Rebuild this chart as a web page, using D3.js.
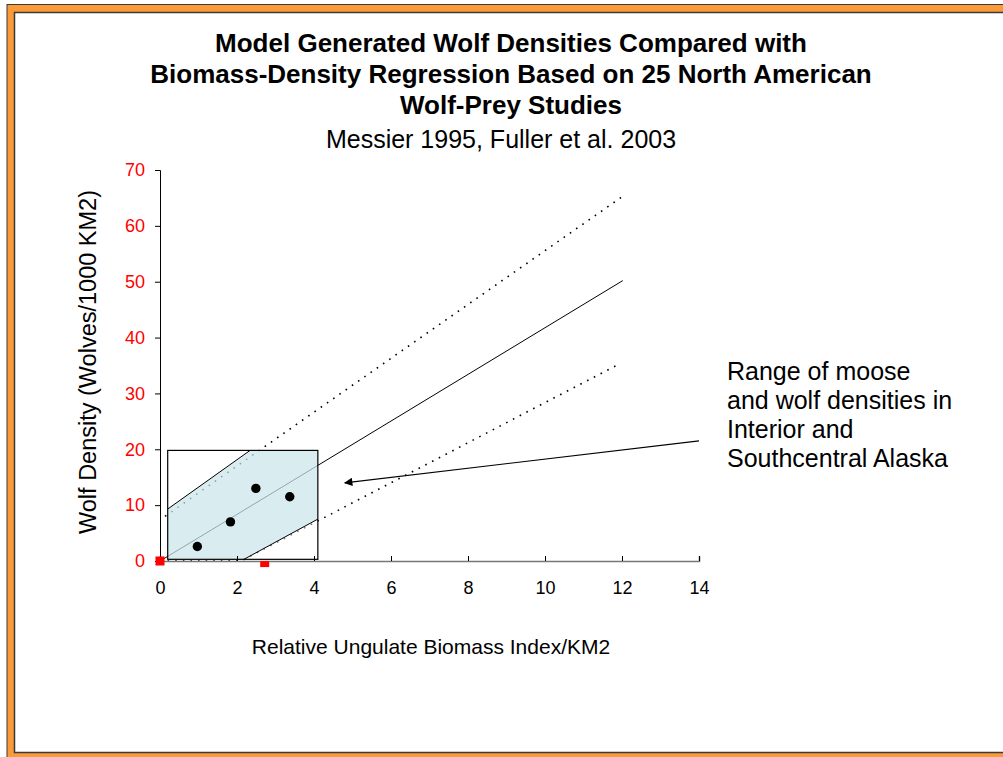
<!DOCTYPE html>
<html>

<head>
    <script src="https://cdn.jsdelivr.net/npm/d3@7"></script>
    <meta charset="utf-8">
    <title>Wolf densities</title>
    <style>
        body { margin: 0; background: #fff; }
        text { font-family: "Liberation Sans", Arial, sans-serif; }
    </style>
</head>

<body>
    <script>
    // data
    var xTicks = [0, 2, 4, 6, 8, 10, 12, 14];
    var yTicks = [0, 10, 20, 30, 40, 50, 60, 70];
    var studies = [[0.97, 2.6], [1.83, 7.0], [2.49, 13.0], [3.37, 11.5]];
    var modelPoints = [[0, 0], [2.72, -0.55]];
    var regression = [[0.05, 0.2], [12.02, 50.2]];
    var upperBound = [[0.13, 8.0], [12.0, 65.2]];
    var lowerBound = [[0, 0], [2.1, 0], [11.88, 35.1]];
    var rangeBox = { x0: 0.2, x1: 4.1, y0: 0.3, y1: 19.8 };
    var rangeBand = [[0.2, 0.3], [0.2, 9.3], [2.34, 19.8], [4.1, 19.8], [4.1, 7.5], [2.18, 0.3]];
    var arrowFrom = [14.0, 21.5], arrowTo = [4.8, 14.0];
    var titleLines = ['Model Generated Wolf Densities Compared with',
        'Biomass-Density Regression Based on 25 North American',
        'Wolf-Prey Studies'];
    var subtitle = 'Messier 1995, Fuller et al. 2003';
    var noteLines = ['Range of moose', 'and wolf densities in', 'Interior and', 'Southcentral Alaska'];

    var W = 1003, H = 757;
    var svg = d3.select('body').append('svg')
        .attr('width', W)
        .attr('height', H);

    // slide frame
    svg.append('rect')
        .attr('x', 7).attr('y', 4.5).attr('width', W + 10).attr('height', H + 10)
        .attr('fill', '#fa9a38').attr('stroke', '#3a3a3a').attr('stroke-width', 1);
    svg.append('rect')
        .attr('x', 14.5).attr('y', 12.5).attr('width', W + 10).attr('height', 740)
        .attr('fill', '#fff').attr('stroke', '#3a3a3a').attr('stroke-width', 1.5);

    var x = d3.scaleLinear().domain([0, 14]).range([160, 699]);
    var y = d3.scaleLinear().domain([0, 70]).range([561, 170]);

    var defs = svg.append('defs');
    defs.append('marker')
        .attr('id', 'arrow')
        .attr('viewBox', '0 0 10 10')
        .attr('refX', 9).attr('refY', 5)
        .attr('markerWidth', 9).attr('markerHeight', 7)
        .attr('orient', 'auto-start-reverse')
        .append('path')
        .attr('d', 'M0,0L10,5L0,10z')
        .attr('fill', '#000');

    // titles
    svg.selectAll('text.title')
        .data(titleLines)
        .enter()
        .append('text')
        .attr('class', 'title')
        .attr('x', 511)
        .attr('y', function(d, i) { return 52 + i * 31; })
        .attr('text-anchor', 'middle')
        .attr('font-size', '26px')
        .attr('font-weight', 'bold')
        .text(function(d) { return d; });
    svg.append('text')
        .attr('x', 501).attr('y', 148)
        .attr('text-anchor', 'middle')
        .attr('font-size', '25px')
        .text(subtitle);

    // lines
    var line = d3.line()
        .x(function(d) { return x(d[0]); })
        .y(function(d) { return y(d[1]); });

    svg.append('path')
        .datum(regression)
        .attr('d', line)
        .attr('fill', 'none')
        .attr('stroke', '#000')
        .attr('stroke-width', 1);
    [upperBound, lowerBound].forEach(function(b) {
        svg.append('path')
            .datum(b)
            .attr('d', line)
            .attr('fill', 'none')
            .attr('stroke', '#000')
            .attr('stroke-width', 1.6)
            .attr('stroke-dasharray', '1.6,6');
    });

    // shaded range box, see-through so the lines show faintly
    svg.append('rect')
        .attr('x', x(rangeBox.x0))
        .attr('y', y(rangeBox.y1))
        .attr('width', x(rangeBox.x1) - x(rangeBox.x0))
        .attr('height', y(rangeBox.y0) - y(rangeBox.y1))
        .attr('fill', '#fff')
        .attr('fill-opacity', 0.45);
    svg.append('path')
        .datum(rangeBand)
        .attr('d', function(d) { return line(d) + 'Z'; })
        .attr('fill', '#b3dae0')
        .attr('fill-opacity', 0.5)
        .attr('stroke', 'none');
    svg.append('path')
        .datum([rangeBand[1], rangeBand[2]])
        .attr('d', line)
        .attr('stroke', '#000').attr('fill', 'none');
    svg.append('path')
        .datum([rangeBand[5], rangeBand[4]])
        .attr('d', line)
        .attr('stroke', '#000').attr('fill', 'none');
    svg.append('rect')
        .attr('x', x(rangeBox.x0))
        .attr('y', y(rangeBox.y1))
        .attr('width', x(rangeBox.x1) - x(rangeBox.x0))
        .attr('height', y(rangeBox.y0) - y(rangeBox.y1))
        .attr('fill', 'none')
        .attr('stroke', '#000')
        .attr('stroke-width', 1.2);

    // axes
    var yAxis = svg.append('g')
        .attr('transform', 'translate(' + x(0) + ',0)')
        .call(d3.axisLeft(y).tickValues(yTicks).tickSize(5).tickPadding(10));
    yAxis.select('.domain').attr('stroke', '#000');
    yAxis.selectAll('text')
        .attr('fill', '#ff0000')
        .attr('font-size', '18px')
        .attr('font-family', '"Liberation Sans", Arial, sans-serif');

    var xAxis = svg.append('g')
        .attr('transform', 'translate(0,' + y(0) + ')')
        .call(d3.axisTop(x).tickValues(xTicks).tickSize(5).tickSizeOuter(5));
    xAxis.select('.domain').attr('stroke', '#777').attr('stroke-width', 1.6);
    xAxis.selectAll('text')
        .attr('y', 33)
        .attr('fill', '#000')
        .attr('font-size', '18px')
        .attr('font-family', '"Liberation Sans", Arial, sans-serif');

    // markers
    svg.selectAll('circle.study')
        .data(studies)
        .enter()
        .append('circle')
        .attr('class', 'study')
        .attr('cx', function(d) { return x(d[0]); })
        .attr('cy', function(d) { return y(d[1]); })
        .attr('r', 4.7)
        .attr('fill', '#000');
    svg.selectAll('rect.model')
        .data(modelPoints)
        .enter()
        .append('rect')
        .attr('class', 'model')
        .attr('x', function(d) { return x(d[0]) - 4.5; })
        .attr('y', function(d, i) { return y(d[1]) - (i === 0 ? 4.5 : 3); })
        .attr('width', 9)
        .attr('height', function(d, i) { return i === 0 ? 9 : 6; })
        .attr('fill', '#ff0000');

    // axis titles
    svg.append('text')
        .attr('transform', 'translate(96,' + 362 + ') rotate(-90)')
        .attr('text-anchor', 'middle')
        .attr('font-size', '23.5px')
        .text('Wolf Density (Wolves/1000 KM2)');
    svg.append('text')
        .attr('x', 431).attr('y', 654)
        .attr('text-anchor', 'middle')
        .attr('font-size', '21px')
        .text('Relative Ungulate Biomass Index/KM2');

    // annotation
    svg.append('line')
        .attr('x1', x(arrowFrom[0])).attr('y1', y(arrowFrom[1]))
        .attr('x2', x(arrowTo[0])).attr('y2', y(arrowTo[1]))
        .attr('stroke', '#000')
        .attr('stroke-width', 1.2)
        .attr('marker-end', 'url(#arrow)');
    svg.selectAll('text.note')
        .data(noteLines)
        .enter()
        .append('text')
        .attr('class', 'note')
        .attr('x', 727)
        .attr('y', function(d, i) { return 380 + i * 29; })
        .attr('font-size', '25px')
        .text(function(d) { return d; });
    </script>
</body>

</html>
